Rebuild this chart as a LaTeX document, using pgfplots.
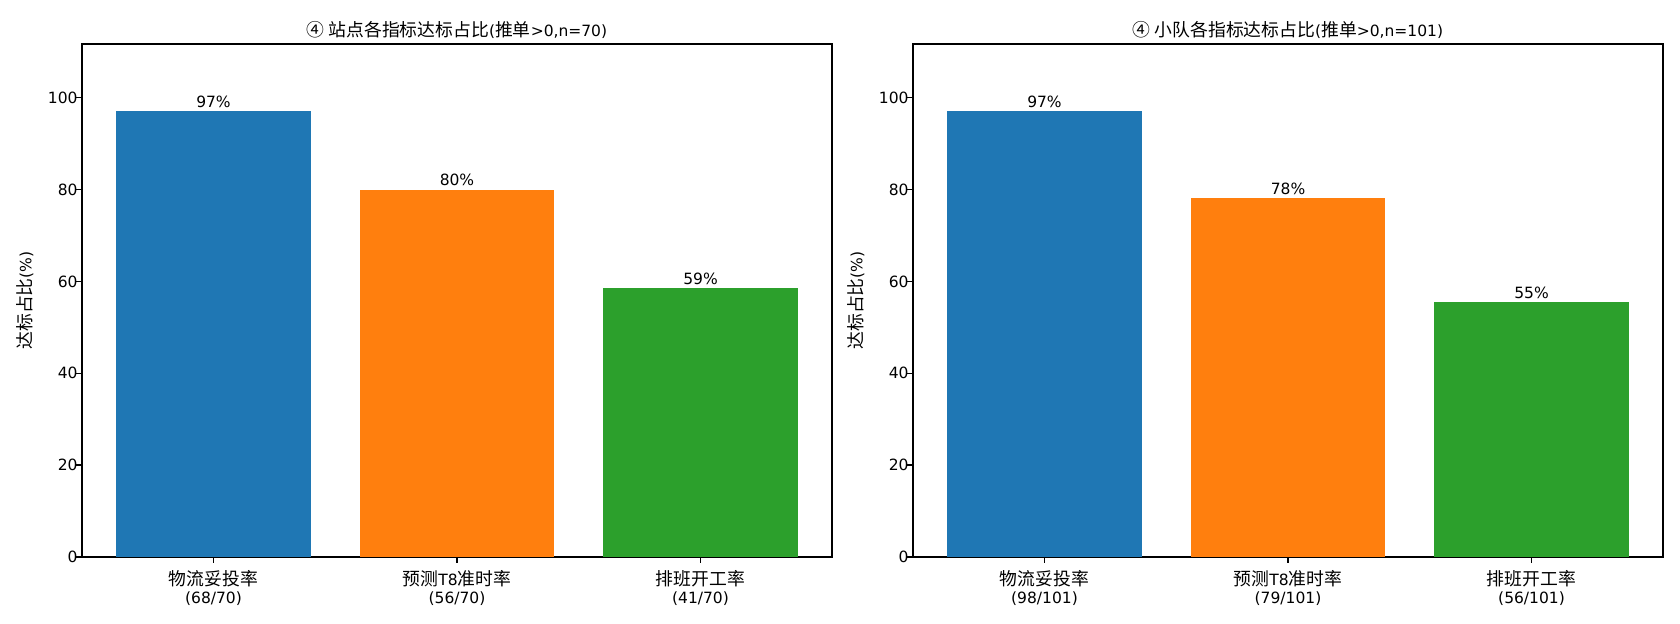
\documentclass[border=0pt]{standalone}
\usepackage{pgfplots}
\pgfplotsset{compat=1.18}
\usepackage{fontspec}
\setmainfont{DejaVu Sans}
\newfontfamily\cjk[Scale=1.15]{Noto Sans CJK SC}
\newcommand\C[1]{{\cjk #1}}
\definecolor{tabblue}{HTML}{1F77B4}
\definecolor{taborange}{HTML}{FF7F0E}
\definecolor{tabgreen}{HTML}{2CA02C}
\pgfplotsset{
  mybar/.style={
    scale only axis, width=450bp, height=307.8bp,
    anchor=south west,
    xmin=-0.54, xmax=2.54, ymin=0, ymax=111.7,
    xtick={0,1,2}, ytick={0,20,40,60,80,100},
    tick align=outside, xtick pos=bottom, ytick pos=left,
    major tick length=3.5bp,
    tick style={black, line width=0.8bp},
    axis line style={black, line width=0.8bp},
    /pgf/number format/assume math mode=true,
    font=\fontsize{9.3bp}{10.6bp}\selectfont,
    tick label style={font=\fontsize{9.3bp}{10.6bp}\selectfont},
    yticklabel style={anchor=east, inner sep=0pt, xshift=1bp},
    xticklabel style={align=center, anchor=north, inner sep=0pt, yshift=-4.5bp},
    ylabel style={font=\fontsize{9.3bp}{10.6bp}\selectfont, at={(axis description cs:0,0.5)}, anchor=center, yshift=34.2bp},
    title style={font=\fontsize{9.3bp}{10.6bp}\selectfont, at={(axis description cs:0.5,1)}, anchor=base, yshift=-1.2bp, inner sep=0pt},
    ylabel={\C{达标占比}(\%)},
    ybar, bar width=0.8,
    nodes near coords={\pgfplotspointmeta},
    point meta=explicit symbolic,
    every node near coord/.append style={font=\fontsize{9.3bp}{10.6bp}\selectfont, anchor=base, yshift=2.2bp, inner sep=0pt, black},
  }
}
\begin{document}
\begin{tikzpicture}
\path[use as bounding box] (0,0) rectangle (1008bp,374.4bp);
\begin{axis}[mybar, at={(49.2bp,40.2bp)},
  title={\C{④ 站点各指标达标占比}(\C{推单}>0,n=70)},
  xticklabels={{\C{物流妥投率}\\(68/70)},{\C{预测}T8\C{准时率}\\(56/70)},{\C{排班开工率}\\(41/70)}}]
\addplot[fill=tabblue, draw=none, bar shift=0] coordinates {(0,97.14) [97\%]};
\addplot[fill=taborange, draw=none, bar shift=0] coordinates {(1,80.00) [80\%]};
\addplot[fill=tabgreen, draw=none, bar shift=0] coordinates {(2,58.57) [59\%]};
\end{axis}
\begin{axis}[mybar, at={(547.8bp,40.2bp)},
  title={\C{④ 小队各指标达标占比}(\C{推单}>0,n=101)},
  xticklabels={{\C{物流妥投率}\\(98/101)},{\C{预测}T8\C{准时率}\\(79/101)},{\C{排班开工率}\\(56/101)}}]
\addplot[fill=tabblue, draw=none, bar shift=0] coordinates {(0,97.03) [97\%]};
\addplot[fill=taborange, draw=none, bar shift=0] coordinates {(1,78.22) [78\%]};
\addplot[fill=tabgreen, draw=none, bar shift=0] coordinates {(2,55.45) [55\%]};
\end{axis}
\end{tikzpicture}
\end{document}
